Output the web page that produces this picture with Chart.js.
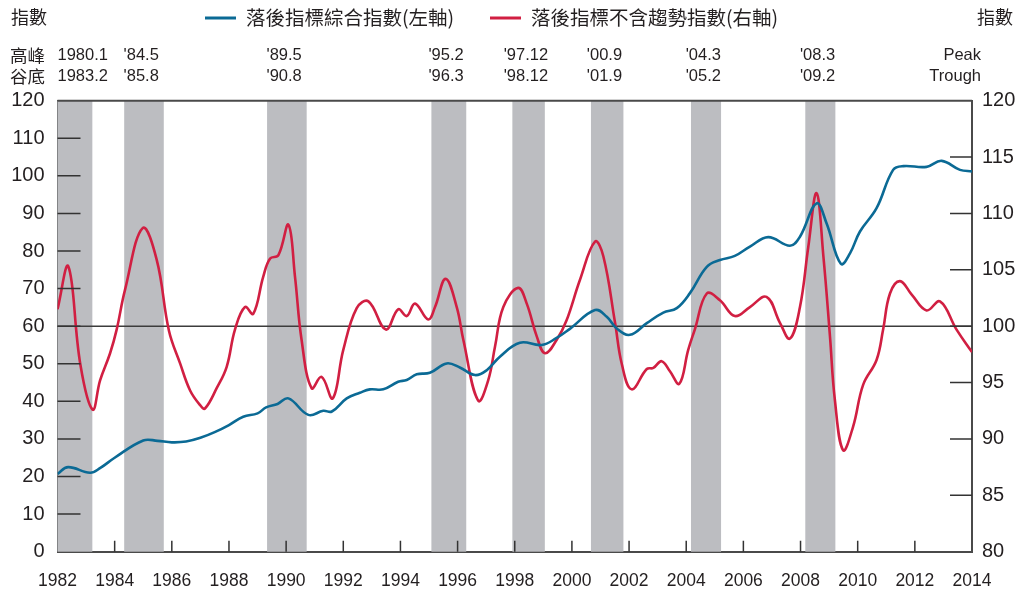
<!DOCTYPE html>
<html>
<head>
<meta charset="utf-8">
<script src="https://cdn.jsdelivr.net/npm/chart.js@4.4.0/dist/chart.umd.min.js"></script>
<style>
  html, body { margin: 0; padding: 0; background: #fff; }
  #wrap { width: 1026px; height: 591px; }
</style>
</head>
<body>
<div id="wrap"><canvas id="chart" width="1026" height="591"></canvas></div>
<script>
// 落後指標綜合指數 (左軸)
const compYears = [1982.0, 1982.37, 1983.14, 1983.5, 1984.0, 1985.0, 1985.5, 1986.0, 1986.5, 1987.0,
  1987.5, 1988.0, 1988.5, 1989.0, 1989.3, 1989.7, 1990.08, 1990.78, 1991.3, 1991.6,
  1992.12, 1992.58, 1992.93, 1993.4, 1993.92, 1994.22, 1994.57, 1995.03, 1995.62, 1996.08,
  1996.61, 1997.02, 1997.48, 1998.18, 1998.94, 1999.45, 1999.93, 2000.81, 2001.22, 2001.57,
  2002.03, 2002.62, 2003.2, 2003.67, 2004.13, 2004.72, 2005.18, 2005.7, 2006.23, 2006.87,
  2007.63, 2007.98, 2008.56, 2008.91, 2009.41, 2009.73, 2010.08, 2010.66, 2011.24, 2011.6,
  2012.41, 2012.94, 2013.58, 2014.0];
const compValues = [20.7, 22.5, 21.0, 22.3, 25.0, 29.6, 29.5, 29.1, 29.3, 30.3,
  31.8, 33.7, 35.9, 36.8, 38.4, 39.3, 40.8, 36.4, 37.5, 37.3,
  40.8, 42.3, 43.2, 43.2, 45.2, 45.7, 47.2, 47.6, 50.1, 49.0,
  47.0, 48.3, 51.9, 55.6, 55.0, 56.8, 59.3, 64.3, 62.5, 59.4,
  57.7, 60.8, 63.6, 64.8, 68.8, 75.8, 77.6, 78.7, 81.2, 83.7,
  81.4, 83.8, 92.7, 87.4, 76.6, 79.4, 85.2, 91.4, 101.6, 102.6,
  102.4, 104.0, 101.6, 101.2];

// 落後指標不含趨勢指數 (右軸)
const cycleYears = [1982.0, 1982.38, 1982.8, 1983.23, 1983.49, 1983.84, 1984.07, 1984.36, 1984.98,
  1985.47, 1985.9, 1986.29, 1986.64, 1986.99, 1987.16, 1987.57, 1987.92, 1988.21,
  1988.56, 1988.85, 1989.2, 1989.44, 1989.73, 1990.08, 1990.31, 1990.54, 1990.89, 1991.24,
  1991.63, 1992.0, 1992.47, 1992.88, 1993.49, 1993.92, 1994.22, 1994.51, 1994.97, 1995.21,
  1995.58, 1995.97, 1996.2, 1996.72, 1997.07, 1997.31, 1997.6, 1998.12, 1998.42, 1998.77,
  1999.06, 1999.47, 1999.81, 2000.28, 2000.81, 2001.1, 2001.51, 2001.75, 2002.09, 2002.62,
  2002.85, 2003.14, 2003.43, 2003.76, 2004.07, 2004.3, 2004.72, 2005.18, 2005.7, 2006.23,
  2006.81, 2007.28, 2007.63, 2007.98, 2008.27, 2008.56, 2008.8, 2009.03, 2009.2, 2009.49,
  2009.84, 2010.19, 2010.66, 2010.89, 2011.13, 2011.48, 2011.89, 2012.41, 2012.88, 2013.46,
  2014.0];
const cycleValues = [101.5, 105.3, 96.6, 92.6, 95.2, 97.6, 99.7, 103.2, 108.7,
  105.9, 99.6, 96.7, 94.3, 93.0, 92.7, 94.5, 96.4, 99.7,
  101.7, 101.1, 104.4, 106.0, 106.3, 109.0, 104.4, 98.8, 94.5, 95.5,
  93.6, 97.9, 101.6, 102.2, 99.7, 101.5, 100.9, 102.0, 100.6, 101.7,
  104.2, 101.7, 98.8, 93.4, 95.2, 98.2, 101.7, 103.4, 102.0, 99.1,
  97.6, 98.8, 100.5, 104.1, 107.5, 106.2, 100.3, 96.6, 94.4, 96.2,
  96.3, 96.9, 96.0, 94.9, 97.9, 99.7, 102.9, 102.3, 100.9, 101.7,
  102.6, 100.3, 98.9, 101.7, 107.0, 111.8, 106.2, 99.1, 93.5, 89.0,
  91.1, 94.8, 97.0, 99.7, 102.9, 104.0, 102.8, 101.4, 102.2, 99.7,
  97.7];

// 景氣循環高峰 / 谷底 [年, 月]
const peakYM   = [[1980, 1], [1984, 5], [1989, 5], [1995, 2], [1997, 12], [2000, 9], [2004, 3], [2008, 3]];
const troughYM = [[1983, 2], [1985, 8], [1990, 8], [1996, 3], [1998, 12], [2001, 9], [2005, 2], [2009, 2]];
const peakLabels   = ['1980.1', "'84.5", "'89.5", "'95.2", "'97.12", "'00.9", "'04.3", "'08.3"];
const troughLabels = ['1983.2', "'85.8", "'90.8", "'96.3", "'98.12", "'01.9", "'05.2", "'09.2"];

const xTicks = [1982, 1984, 1986, 1988, 1990, 1992, 1994, 1996, 1998, 2000, 2002, 2004, 2006, 2008, 2010, 2012, 2014];
const leftTicks = [0, 10, 20, 30, 40, 50, 60, 70, 80, 90, 100, 110, 120];
const rightTicks = [80, 85, 90, 95, 100, 105, 110, 115, 120];
const refLevel = 60;

const seriesNames = ['落後指標綜合指數(左軸)', '落後指標不含趨勢指數(右軸)'];
const BLUE = '#0b6a95';
const RED = '#d11f42';
const INK = '#231f20';
const FRAME = '#4a4a4a';
const LATIN = "'Liberation Sans', Arial, sans-serif";
const CJK = "'Noto Sans CJK TC', 'Noto Sans CJK SC', sans-serif";

const toPoints = (xs, ys) => xs.map((x, i) => ({ x, y: ys[i] }));

// shaded recessions + 60/100 reference line
const bandPlugin = {
  id: 'bands',
  beforeDatasetsDraw(chart) {
    const { ctx, chartArea: a, scales } = chart;
    ctx.save();
    ctx.fillStyle = '#bcbdc1';
    peakYM.forEach((p, i) => {
      const t = troughYM[i];
      let x0 = scales.x.getPixelForValue(p[0] + (p[1] - 1) / 12);
      let x1 = scales.x.getPixelForValue(t[0] + t[1] / 12) + 1.5;
      x0 = Math.max(x0, a.left);
      x1 = Math.min(x1, a.right);
      if (x1 > x0) ctx.fillRect(x0, a.top, x1 - x0, a.bottom - a.top);
    });
    const yr = scales.y.getPixelForValue(refLevel);
    ctx.strokeStyle = '#3c3c3c';
    ctx.lineWidth = 1.5;
    ctx.beginPath();
    ctx.moveTo(a.left, yr);
    ctx.lineTo(a.right, yr);
    ctx.stroke();
    ctx.restore();
  }
};

// frame, inward ticks, header texts
const framePlugin = {
  id: 'frame',
  afterDraw(chart) {
    const { ctx, chartArea: a, scales } = chart;
    ctx.save();
    ctx.strokeStyle = FRAME;
    ctx.lineWidth = 2;
    ctx.beginPath();
    ctx.moveTo(a.left, a.top);
    ctx.lineTo(a.right, a.top);
    ctx.stroke();

    ctx.lineWidth = 1.5;
    ctx.strokeStyle = '#333';
    ctx.beginPath();
    leftTicks.slice(1, -1).forEach(v => {
      const y = scales.y.getPixelForValue(v);
      ctx.moveTo(a.left, y);
      ctx.lineTo(a.left + 23, y);
    });
    rightTicks.slice(1, -1).forEach(v => {
      const y = scales.y2.getPixelForValue(v);
      ctx.moveTo(a.right - 22, y);
      ctx.lineTo(a.right, y);
    });
    xTicks.slice(1, -1).forEach(v => {
      const x = scales.x.getPixelForValue(v);
      ctx.moveTo(x, a.bottom);
      ctx.lineTo(x, a.bottom - 11);
    });
    ctx.stroke();

    // axis units
    ctx.fillStyle = INK;
    ctx.textBaseline = 'middle';
    ctx.font = '18px ' + CJK;
    ctx.textAlign = 'left';
    ctx.fillText('指數', 11, 17);
    ctx.textAlign = 'right';
    ctx.fillText('指數', 1013, 17);

    // legend
    const legendItems = [
      { color: BLUE, x: 205, text: seriesNames[0] },
      { color: RED, x: 490, text: seriesNames[1] }
    ];
    ctx.font = '19.5px ' + CJK;
    ctx.textAlign = 'left';
    legendItems.forEach(it => {
      ctx.strokeStyle = it.color;
      ctx.lineWidth = 3;
      ctx.beginPath();
      ctx.moveTo(it.x, 18);
      ctx.lineTo(it.x + 31, 18);
      ctx.stroke();
      ctx.fillStyle = INK;
      ctx.fillText(it.text, it.x + 41, 18);
    });

    // peak / trough rows
    ctx.font = '17.5px ' + CJK;
    ctx.textAlign = 'left';
    ctx.fillText('高峰', 10, 55);
    ctx.fillText('谷底', 10, 76);
    ctx.font = '16.5px ' + LATIN;
    ctx.textAlign = 'center';
    peakYM.forEach((p, i) => {
      const t = troughYM[i];
      const x0 = Math.max(scales.x.getPixelForValue(p[0] + (p[1] - 1) / 12), a.left);
      const x1 = scales.x.getPixelForValue(t[0] + t[1] / 12);
      const w = Math.max(ctx.measureText(peakLabels[i]).width, ctx.measureText(troughLabels[i]).width);
      const cx = Math.max((x0 + x1) / 2 - 2, a.left + w / 2);
      ctx.fillText(peakLabels[i], cx, 55);
      ctx.fillText(troughLabels[i], cx, 76);
    });
    ctx.textAlign = 'right';
    ctx.fillText('Peak', 981, 55);
    ctx.fillText('Trough', 981, 76);
    ctx.restore();
  }
};

new Chart(document.getElementById('chart'), {
  type: 'line',
  data: {
    datasets: [
      {
        label: seriesNames[0],
        data: toPoints(compYears, compValues),
        yAxisID: 'y',
        borderColor: BLUE,
        borderWidth: 2.6,
        pointRadius: 0,
        tension: 0.4
      },
      {
        label: seriesNames[1],
        data: toPoints(cycleYears, cycleValues),
        yAxisID: 'y2',
        borderColor: RED,
        borderWidth: 2.6,
        pointRadius: 0,
        tension: 0.4
      }
    ]
  },
  options: {
    responsive: false,
    animation: false,
    devicePixelRatio: 1,
    layout: { padding: { top: 100.7, left: 0, right: 0, bottom: 0 } },
    plugins: {
      legend: { display: false },
      tooltip: { enabled: false }
    },
    scales: {
      x: {
        type: 'linear',
        min: 1982,
        max: 2014,
        afterBuildTicks: s => { s.ticks = xTicks.map(v => ({ value: v })); },
        afterFit: s => { s.height = 39.3; },
        grid: { display: false, drawTicks: false },
        border: { display: true, color: FRAME, width: 2 },
        ticks: {
          callback: v => String(v),
          autoSkip: false,
          maxRotation: 0,
          padding: 19,
          color: INK,
          font: { family: LATIN, size: 17.5 }
        }
      },
      y: {
        position: 'left',
        min: 0,
        max: 120,
        afterBuildTicks: s => { s.ticks = leftTicks.map(v => ({ value: v })); },
        afterFit: s => { s.width = 57.5; },
        grid: { display: false, drawTicks: false },
        border: { display: true, color: FRAME, width: 2 },
        ticks: { padding: 13, color: INK, font: { family: LATIN, size: 20 } }
      },
      y2: {
        position: 'right',
        min: 80,
        max: 120,
        afterBuildTicks: s => { s.ticks = rightTicks.map(v => ({ value: v })); },
        afterFit: s => { s.width = 54; },
        grid: { display: false, drawTicks: false },
        border: { display: true, color: FRAME, width: 2 },
        ticks: { padding: 10, color: INK, font: { family: LATIN, size: 20 } }
      }
    }
  },
  plugins: [bandPlugin, framePlugin]
});
</script>
</body>
</html>
